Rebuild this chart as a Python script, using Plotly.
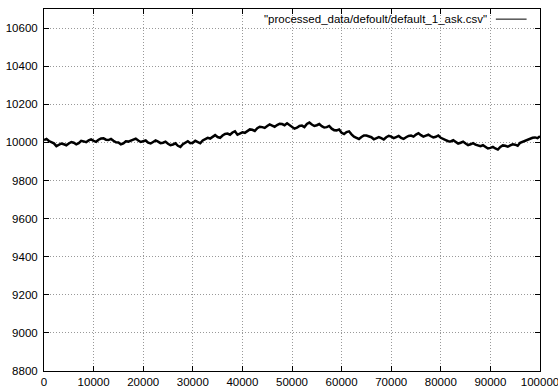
import plotly.graph_objects as go

x_values = [i * 500 for i in range(201)]
ask_values = [
    10012, 10018, 10007, 9999, 9995, 9980, 9986, 9994, 9990, 9985,
    9994, 10002, 9998, 9990, 9996, 10008, 10005, 10001, 10010, 10016,
    10008, 10003, 10014, 10020, 10021, 10014, 10012, 10018, 10008, 10000,
    9999, 9990, 9994, 10006, 10004, 10008, 10016, 10020, 10010, 10002,
    10006, 10010, 9998, 9994, 10002, 10010, 10004, 9996, 9998, 10004,
    9993, 9985, 9989, 9995, 9982, 9976, 9990, 10000, 10006, 9996,
    9998, 10008, 10002, 9995, 10010, 10018, 10024, 10020, 10031, 10038,
    10028, 10024, 10036, 10044, 10046, 10040, 10052, 10058, 10040, 10046,
    10053, 10050, 10060, 10068, 10066, 10060, 10074, 10082, 10080, 10076,
    10086, 10094, 10088, 10082, 10091, 10098, 10096, 10090, 10100, 10092,
    10082, 10072, 10077, 10086, 10088, 10080, 10097, 10104, 10094, 10086,
    10090, 10096, 10085, 10078, 10080, 10086, 10072, 10064, 10063, 10068,
    10050, 10044, 10054, 10058, 10042, 10030, 10024, 10018, 10028, 10036,
    10036, 10030, 10027, 10016, 10021, 10028, 10022, 10015, 10027, 10034,
    10030, 10022, 10028, 10034, 10024, 10018, 10027, 10034, 10036, 10030,
    10041, 10048, 10038, 10030, 10035, 10040, 10032, 10026, 10029, 10036,
    10024, 10016, 10012, 10006, 10005, 10011, 10001, 9994, 9998, 10004,
    9994, 9986, 9990, 9996, 9988, 9982, 9980, 9985, 9975, 9968,
    9971, 9976, 9968, 9962, 9976, 9984, 9982, 9977, 9984, 9990,
    9988, 9982, 9998, 10004, 10008, 10012, 10018, 10024, 10026, 10022,
    10032,
]
series_name = '"processed_data/defoult/default_1_ask.csv"'
x_ticks = list(range(0, 100001, 10000))
y_ticks = list(range(8800, 10601, 200))

FONT = "Liberation Sans, Arial"

fig = go.Figure()
fig.add_trace(go.Scatter(x=x_values, y=ask_values, mode="lines",
                         line=dict(color="black", width=2.5),
                         name=series_name, showlegend=False, cliponaxis=False))

axis_common = dict(showline=True, mirror="ticks", linecolor="black", linewidth=1,
                   ticks="inside", ticklen=5, tickcolor="black",
                   showgrid=True, gridcolor="#999999", griddash="1px,2px", gridwidth=1,
                   zeroline=False, automargin=False,
                   tickfont=dict(family=FONT, size=11.5, color="black"))

fig.update_xaxes(range=[0, 100000], tickvals=x_ticks, ticktext=[str(v) for v in x_ticks],
                 ticklabelstandoff=0, ticklabeloverflow="allow", **axis_common)
fig.update_yaxes(range=[8800, 10700], tickvals=y_ticks, ticktext=[str(v) for v in y_ticks],
                 ticklabelstandoff=3, **axis_common)

fig.add_annotation(xref="paper", yref="paper", x=0.897, y=0.972, xanchor="right", yanchor="middle",
                   text=series_name, showarrow=False,
                   font=dict(family=FONT, size=11.5, color="black"))
fig.add_shape(type="line", xref="paper", yref="paper", x0=0.911, x1=0.973, y0=0.972, y1=0.972,
              line=dict(color="black", width=1))

fig.update_layout(width=558, height=387, margin=dict(l=44, r=18, t=9, b=16),
                  paper_bgcolor="white", plot_bgcolor="white",
                  font=dict(family=FONT, size=11.5, color="black"))

fig.write_html("out.html", config={"displayModeBar": False, "staticPlot": True},
               post_script="document.body.style.margin='0';document.body.style.overflow='hidden';")
